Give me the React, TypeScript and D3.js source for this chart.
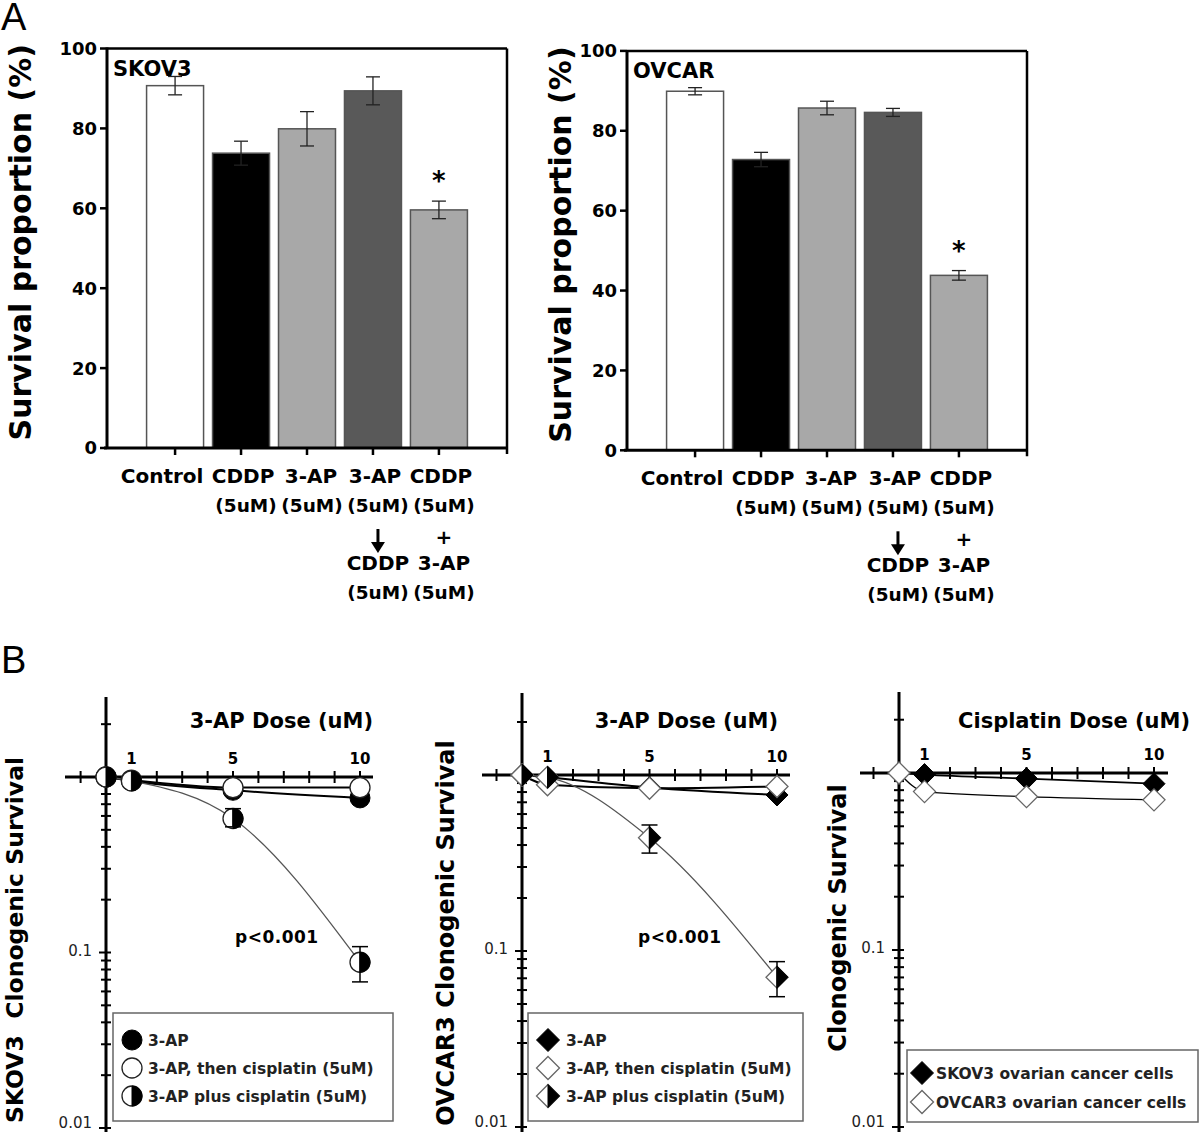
import React from 'react';
import * as d3 from 'd3';

const FONT = '"DejaVu Sans", sans-serif';

// ---- panel A: survival proportion bars ----
const treatments = ['Control', 'CDDP', '3-AP', '3-AP then CDDP', 'CDDP + 3-AP'];
const treatmentLabels = [
    ['Control'],
    ['CDDP', '(5uM)'],
    ['3-AP', '(5uM)'],
    ['3-AP', '(5uM)', 'ARROW', 'CDDP', '(5uM)'],
    ['CDDP', '(5uM)', '+', '3-AP', '(5uM)']
];
const labelShift = [-13, 2, 4, 2, 2];
const barFills = ['#ffffff', '#000000', '#a8a8a8', '#595959', '#a8a8a8'];
const skov3Survival = [90.7, 73.8, 79.9, 89.4, 59.6];
const skov3Error = [2.3, 3.0, 4.3, 3.5, 2.2];
const ovcarSurvival = [89.9, 72.8, 85.7, 84.6, 43.8];
const ovcarError = [0.9, 1.8, 1.7, 1.0, 1.2];
const significant = [false, false, false, false, true];
const percentTicks = [0, 20, 40, 60, 80, 100];

// ---- panel B: clonogenic survival (log scale) ----
const doses = [0, 1, 5, 10];
const doseLabels = [1, 5, 10];

const skov3ApAlone = [1, 0.95, 0.84, 0.76];
const skov3ApThenCis = [1, 0.96, 0.87, 0.87];
const skov3ApPlusCis = [1, 0.95, 0.58, 0.088];
const skov3PlusLow = [null, null, 0.52, 0.068];
const skov3PlusHigh = [null, null, 0.66, 0.108];

const ovcar3ApAlone = [1, 0.97, 0.85, 0.77];
const ovcar3ApThenCis = [1, 0.88, 0.84, 0.86];
const ovcar3ApPlusCis = [1, 0.97, 0.44, 0.071];
const ovcar3PlusLow = [null, null, 0.36, 0.055];
const ovcar3PlusHigh = [null, null, 0.52, 0.087];

const cisplatinSkov3 = [1, 0.98, 0.93, 0.87];
const cisplatinOvcar3 = [1, 0.785, 0.735, 0.705];

const combinationLegend = ['3-AP', '3-AP, then cisplatin (5uM)', '3-AP plus cisplatin (5uM)'];
const cellLineLegend = ['SKOV3 ovarian cancer cells', 'OVCAR3 ovarian cancer cells'];

function BarPanel({ left, right, top, bottom, name, values, errors, yLabelX }) {
    const x = d3.scaleBand().domain(treatments).range([left, right])
        .paddingInner(0.136).paddingOuter(0.6);
    const y = d3.scaleLinear().domain([0, 100]).range([bottom, top]);
    const bw = x.bandwidth();

    return (
        <g fontFamily={FONT} fontWeight="bold">
            <text transform={`translate(${yLabelX},${(top + bottom) / 2 - 6}) rotate(-90)`}
                textAnchor="middle" fontSize={30}>Survival proportion (%)</text>

            {treatments.map((t, i) => (
                <rect key={t} x={x(t)} y={y(values[i])} width={bw} height={y(0) - y(values[i])}
                    fill={barFills[i]} stroke="#555" strokeWidth={1.5} />
            ))}

            {treatments.map((t, i) => {
                const cx = x(t) + bw / 2;
                return (
                    <g key={t} stroke="#222" strokeWidth={1.3}>
                        <line x1={cx} x2={cx} y1={y(values[i] - errors[i])} y2={y(values[i] + errors[i])} />
                        <line x1={cx - 7} x2={cx + 7} y1={y(values[i] + errors[i])} y2={y(values[i] + errors[i])} />
                        <line x1={cx - 7} x2={cx + 7} y1={y(values[i] - errors[i])} y2={y(values[i] - errors[i])} />
                    </g>
                );
            })}

            {treatments.map((t, i) => significant[i] && (
                <text key={t} x={x(t) + bw / 2} y={y(values[i] + errors[i]) - 11}
                    textAnchor="middle" fontSize={26}>*</text>
            ))}

            {/* frame */}
            <line x1={left} x2={right} y1={top} y2={top} stroke="#000" strokeWidth={2.5} />
            <line x1={right} x2={right} y1={top} y2={bottom + 6} stroke="#000" strokeWidth={2.5} />
            <line x1={left} x2={left} y1={top - 1} y2={bottom} stroke="#000" strokeWidth={3} />
            <line x1={left - 3} x2={right + 1} y1={bottom} y2={bottom} stroke="#000" strokeWidth={3} />

            {percentTicks.map(v => (
                <g key={v}>
                    <line x1={left - 7} x2={left} y1={y(v)} y2={y(v)} stroke="#000" strokeWidth={2.5} />
                    <text x={left - 10} y={y(v)} dy="0.36em" textAnchor="end" fontSize={18}>{v}</text>
                </g>
            ))}

            {treatments.map((t, i) => {
                const cx = x(t) + bw / 2;
                return (
                    <g key={t}>
                        <line x1={cx} x2={cx} y1={bottom} y2={bottom + 7} stroke="#000" strokeWidth={2.5} />
                        {treatmentLabels[i].map((s, j) => {
                            const by = bottom + 35 + j * 29;
                            const lx = cx + (j === 0 ? labelShift[i] : 5);
                            if (s === 'ARROW') {
                                return (
                                    <g key={j}>
                                        <line x1={lx} x2={lx} y1={by - 12} y2={by + 2} stroke="#000" strokeWidth={3} />
                                        <path d={`M${lx - 7},${by + 1}L${lx + 7},${by + 1}L${lx},${by + 12}Z`} fill="#000" />
                                    </g>
                                );
                            }
                            return (
                                <text key={j} x={lx} y={s === '+' ? by + 3 : by} textAnchor="middle"
                                    fontSize={s.startsWith('(') ? 18.5 : 20}>{s}</text>
                            );
                        })}
                    </g>
                );
            })}

            <text x={left + 6} y={top + 27} fontSize={21}>{name}</text>
        </g>
    );
}

function Marker({ shape, fill, cx, cy, r }) {
    const outline = shape === 'circle'
        ? `M${cx - r},${cy}A${r},${r} 0 1 1 ${cx + r},${cy}A${r},${r} 0 1 1 ${cx - r},${cy}Z`
        : `M${cx},${cy - r}L${cx + r},${cy}L${cx},${cy + r}L${cx - r},${cy}Z`;
    const rightHalf = shape === 'circle'
        ? `M${cx},${cy - r}A${r},${r} 0 0 1 ${cx},${cy + r}Z`
        : `M${cx},${cy - r}L${cx + r},${cy}L${cx},${cy + r}Z`;
    const openStroke = shape === 'circle' ? '#222' : '#666';
    return (
        <g>
            <path d={outline} fill={fill === 'full' ? '#000' : '#fff'}
                stroke={fill === 'full' ? '#000' : openStroke} strokeWidth={fill === 'full' ? 1 : 1.3} />
            {fill === 'half' && <path d={rightHalf} fill="#000" stroke="#000" strokeWidth={1} />}
        </g>
    );
}

function SurvivalPanel({ cfg, series, low, high, title, yLabel, shape, pLabel, legend }) {
    const x = d3.scaleLinear().domain([0, 10]).range([cfg.x0, cfg.x10]);
    const y = d3.scaleLog().domain([0.01, 1]).range([cfg.y001, cfg.y1]);
    const yTop = y.invert(cfg.top);
    const minorTicks = [];
    [-2, -1, 0].forEach(e => d3.range(1, 10).forEach(k => {
        const v = k * Math.pow(10, e);
        if (v <= yTop && k !== 1 || (k === 1 && e < 0)) minorTicks.push(v);
    }));
    const r = shape === 'circle' ? 10 : 11;
    const line = d3.line().x((d, i) => x(doses[i])).y(d => y(d)).curve(d3.curveMonotoneX);

    return (
        <g fontFamily={FONT}>
            <text transform={`translate(${cfg.yLabelX},${cfg.yLabelY}) rotate(-90)`} textAnchor="middle"
                fontSize={cfg.yLabelSize} fontWeight="bold" style={{ whiteSpace: 'pre' }}>{yLabel}</text>
            <text x={cfg.titleEnd} y={728} textAnchor="end" fontSize={21} fontWeight="bold">{title}</text>

            {/* axes */}
            <line x1={cfg.x0} x2={cfg.x0} y1={cfg.top} y2={1132} stroke="#000" strokeWidth={3} />
            <line x1={cfg.axisLeft} x2={cfg.axisRight} y1={cfg.y1} y2={cfg.y1} stroke="#000" strokeWidth={3} />
            {minorTicks.map(v => (
                <line key={v} x1={cfg.x0 - (v === 0.1 || v === 0.01 ? 7 : 5)} x2={cfg.x0 + 5}
                    y1={y(v)} y2={y(v)} stroke="#000" strokeWidth={2} />
            ))}
            {[0.1, 0.01].map(v => (
                <text key={v} x={cfg.x0 - 14} y={y(v)} dy={v === 0.01 ? '0em' : '0.2em'} textAnchor="end"
                    fontSize={15} fill="#222">{v}</text>
            ))}
            {d3.range(-1, 11).filter(d => d !== 0).map(d => (
                <line key={d} x1={x(d)} x2={x(d)} y1={cfg.y1 - 6} y2={cfg.y1 + 6} stroke="#000" strokeWidth={2} />
            ))}
            {doseLabels.map(d => (
                <text key={d} x={x(d)} y={cfg.y1 - 13} textAnchor="middle" fontSize={15} fontWeight="bold">{d}</text>
            ))}

            {/* curves */}
            {series.map((s, i) => (
                <path key={i} d={line(s.values)} fill="none" stroke={s.lineColor} strokeWidth={s.lineWidth} />
            ))}
            {series.map((s, i) => s.values.map((v, j) => (
                <Marker key={i + '-' + j} shape={shape} fill={s.fill} cx={x(doses[j])} cy={y(v)} r={r} />
            )))}
            {low && low.map((lo, j) => lo !== null && (
                <g key={j} stroke="#000" strokeWidth={1.5}>
                    <line x1={x(doses[j])} x2={x(doses[j])} y1={y(lo)} y2={y(high[j])} />
                    <line x1={x(doses[j]) - 8} x2={x(doses[j]) + 8} y1={y(lo)} y2={y(lo)} />
                    <line x1={x(doses[j]) - 8} x2={x(doses[j]) + 8} y1={y(high[j])} y2={y(high[j])} />
                </g>
            ))}
            {pLabel && (
                <text x={pLabel.x} y={943} fontSize={17} fontWeight="bold" letterSpacing={0.5}>p&lt;0.001</text>
            )}

            {/* legend */}
            <rect x={legend.x} y={legend.y} width={legend.w} height={legend.h} fill="#fff" stroke="#666" strokeWidth={1.5} />
            {legend.labels.map((lab, i) => (
                <g key={lab}>
                    <Marker shape={shape} fill={series[i].fill} cx={legend.markerX} cy={legend.rows[i]}
                        r={shape === 'circle' ? 10 : 11.5} />
                    <text x={legend.textX} y={legend.rows[i]} dy="0.36em" fontSize={15.5} fontWeight="bold" fill="#222">{lab}</text>
                </g>
            ))}
        </g>
    );
}

export default function App() {
    const apLine = { lineColor: '#000', lineWidth: 2 };
    const plusLine = { lineColor: '#555', lineWidth: 1.3 };
    return (
        <div style={{ position: 'absolute', left: 0, top: 0 }}>
            <svg width={1200} height={1132} style={{ display: 'block', background: '#fff' }}>
                <text x={1} y={30} fontFamily='"Liberation Sans", sans-serif' fontSize={38}>A</text>
                <text x={1} y={673} fontFamily='"Liberation Sans", sans-serif' fontSize={38}>B</text>

                <BarPanel left={107} right={507} top={48.5} bottom={448} name="SKOV3"
                    values={skov3Survival} errors={skov3Error} yLabelX={31} />
                <BarPanel left={627} right={1027} top={50.9} bottom={450.3} name="OVCAR"
                    values={ovcarSurvival} errors={ovcarError} yLabelX={571} />

                <SurvivalPanel
                    cfg={{ x0: 106, x10: 360, y1: 777, y001: 1128, top: 697, axisLeft: 65, axisRight: 373,
                        titleEnd: 373, yLabelX: 23, yLabelY: 940, yLabelSize: 23.5 }}
                    series={[
                        { values: skov3ApAlone, fill: 'full', ...apLine },
                        { values: skov3ApThenCis, fill: 'open', ...apLine },
                        { values: skov3ApPlusCis, fill: 'half', ...plusLine }
                    ]}
                    low={skov3PlusLow} high={skov3PlusHigh}
                    title="3-AP Dose (uM)" yLabel="SKOV3  Clonogenic Survival" shape="circle"
                    pLabel={{ x: 235 }}
                    legend={{ x: 113, y: 1013, w: 280, h: 108, markerX: 132, textX: 148,
                        rows: [1040, 1068, 1096], labels: combinationLegend }} />

                <SurvivalPanel
                    cfg={{ x0: 522, x10: 777, y1: 775, y001: 1127, top: 693, axisLeft: 482, axisRight: 790,
                        titleEnd: 778, yLabelX: 454, yLabelY: 933, yLabelSize: 24 }}
                    series={[
                        { values: ovcar3ApAlone, fill: 'full', ...apLine },
                        { values: ovcar3ApThenCis, fill: 'open', ...apLine },
                        { values: ovcar3ApPlusCis, fill: 'half', ...plusLine }
                    ]}
                    low={ovcar3PlusLow} high={ovcar3PlusHigh}
                    title="3-AP Dose (uM)" yLabel="OVCAR3 Clonogenic Survival" shape="diamond"
                    pLabel={{ x: 638 }}
                    legend={{ x: 528, y: 1013, w: 275, h: 108, markerX: 548, textX: 566,
                        rows: [1040, 1068, 1096], labels: combinationLegend }} />

                <SurvivalPanel
                    cfg={{ x0: 899, x10: 1154, y1: 773, y001: 1127, top: 692, axisLeft: 860, axisRight: 1168,
                        titleEnd: 1190, yLabelX: 846, yLabelY: 918, yLabelSize: 24 }}
                    series={[
                        { values: cisplatinSkov3, fill: 'full', lineColor: '#000', lineWidth: 1.8 },
                        { values: cisplatinOvcar3, fill: 'open', lineColor: '#000', lineWidth: 1.3 }
                    ]}
                    title="Cisplatin Dose (uM)" yLabel="Clonogenic Survival" shape="diamond"
                    legend={{ x: 907, y: 1050, w: 291, h: 72, markerX: 922, textX: 936,
                        rows: [1073, 1102], labels: cellLineLegend }} />
            </svg>
        </div>
    );
}
